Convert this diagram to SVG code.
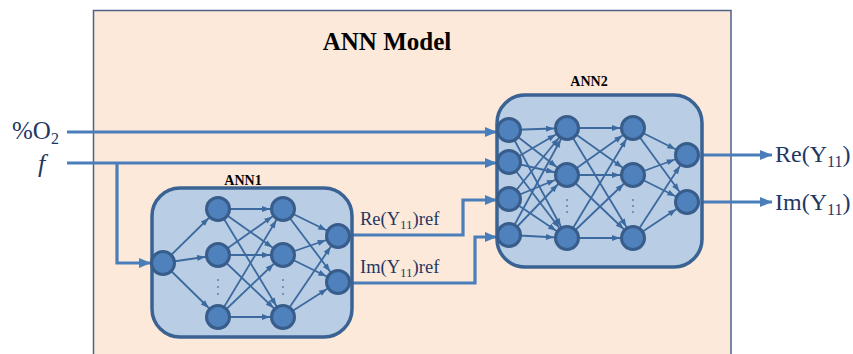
<svg xmlns="http://www.w3.org/2000/svg" width="853" height="354" viewBox="0 0 853 354">
  <style>
    .frame { fill: #fde9d9; stroke: #4d6189; stroke-width: 1.5; }
    .net { fill: #b9cde5; stroke: #3a6394; stroke-width: 3.5; }
    .neuron { fill: #4f81bd; stroke: #385d8a; stroke-width: 3; }
    .syn { stroke: #3c6a9e; stroke-width: 1.8; fill: none; marker-end: url(#tip); }
    .wire { stroke: #4a7ebb; stroke-width: 3.2; fill: none; }
    .dot { fill: #5b7fae; }
    .title { font-family: "Liberation Serif", "Times New Roman", serif; font-weight: bold; fill: #000; }
    .lbl { font-family: "Liberation Serif", "Times New Roman", serif; fill: #1f3864; }
  </style>
  <defs>
    <!-- small head that stops at the rim of the target neuron (r = 13) -->
    <marker id="tip" markerUnits="userSpaceOnUse" markerWidth="8" markerHeight="6" refX="21" refY="3" orient="auto" overflow="visible">
      <path d="M0,0 L8,3 L0,6 z" fill="#3c6a9e"/>
    </marker>
    <marker id="head" markerUnits="userSpaceOnUse" markerWidth="12" markerHeight="10" refX="12" refY="5" orient="auto">
      <path d="M0,0 L12,5 L0,10 z" fill="#4a7ebb"/>
    </marker>
  </defs>

  <!-- outer container -->
  <g id="ann-model">
    <rect class="frame" x="93.5" y="10.5" width="637.5" height="360"/>
    <text class="title" x="387" y="50" font-size="25" text-anchor="middle">ANN Model</text>
  </g>

  <!-- external and inter-network connectors -->
  <g id="connectors">
    <path class="wire" d="M67,132 H497" marker-end="url(#head)"/>
    <path class="wire" d="M67,163 H497" marker-end="url(#head)"/>
    <path class="wire" d="M117,163 V263 H151" marker-end="url(#head)"/>
    <path class="wire" d="M350,235 H463 V200 H497" marker-end="url(#head)"/>
    <path class="wire" d="M350,283 H475 V237 H497" marker-end="url(#head)"/>
    <path class="wire" d="M699,155 H772" marker-end="url(#head)"/>
    <path class="wire" d="M699,202 H772" marker-end="url(#head)"/>
  </g>

  <!-- first network -->
  <g id="ann1">
    <text class="title" x="243" y="185" font-size="14" text-anchor="middle">ANN1</text>
    <rect class="net" x="152" y="188" width="200" height="149" rx="28" ry="28"/>
    <g>
      <line class="syn" x1="163" y1="263" x2="218" y2="209"/>
      <line class="syn" x1="163" y1="263" x2="218" y2="255"/>
      <line class="syn" x1="163" y1="263" x2="218" y2="317"/>
      <line class="syn" x1="218" y1="209" x2="283" y2="209"/>
      <line class="syn" x1="218" y1="209" x2="283" y2="255"/>
      <line class="syn" x1="218" y1="209" x2="283" y2="317"/>
      <line class="syn" x1="218" y1="255" x2="283" y2="209"/>
      <line class="syn" x1="218" y1="255" x2="283" y2="255"/>
      <line class="syn" x1="218" y1="255" x2="283" y2="317"/>
      <line class="syn" x1="218" y1="317" x2="283" y2="209"/>
      <line class="syn" x1="218" y1="317" x2="283" y2="255"/>
      <line class="syn" x1="218" y1="317" x2="283" y2="317"/>
      <line class="syn" x1="283" y1="209" x2="338" y2="236"/>
      <line class="syn" x1="283" y1="209" x2="338" y2="282"/>
      <line class="syn" x1="283" y1="255" x2="338" y2="236"/>
      <line class="syn" x1="283" y1="255" x2="338" y2="282"/>
      <line class="syn" x1="283" y1="317" x2="338" y2="236"/>
      <line class="syn" x1="283" y1="317" x2="338" y2="282"/>
    </g>
    <circle class="neuron" cx="163" cy="263" r="11.5"/>
    <circle class="neuron" cx="218" cy="209" r="11.5"/>
    <circle class="neuron" cx="218" cy="255" r="11.5"/>
    <circle class="neuron" cx="218" cy="317" r="11.5"/>
    <circle class="neuron" cx="283" cy="209" r="11.5"/>
    <circle class="neuron" cx="283" cy="255" r="11.5"/>
    <circle class="neuron" cx="283" cy="317" r="11.5"/>
    <circle class="neuron" cx="338" cy="236" r="11.5"/>
    <circle class="neuron" cx="338" cy="282" r="11.5"/>
    <circle class="dot" cx="218" cy="280" r="1"/>
    <circle class="dot" cx="218" cy="287" r="1"/>
    <circle class="dot" cx="218" cy="294" r="1"/>
    <circle class="dot" cx="283" cy="280" r="1"/>
    <circle class="dot" cx="283" cy="287" r="1"/>
    <circle class="dot" cx="283" cy="294" r="1"/>
  </g>

  <!-- second network -->
  <g id="ann2">
    <text class="title" x="589" y="86" font-size="14" text-anchor="middle">ANN2</text>
    <rect class="net" x="497" y="95" width="205" height="172" rx="28" ry="28"/>
    <g>
      <line class="syn" x1="509" y1="130" x2="567" y2="128"/>
      <line class="syn" x1="509" y1="130" x2="567" y2="175"/>
      <line class="syn" x1="509" y1="130" x2="567" y2="238"/>
      <line class="syn" x1="509" y1="162" x2="567" y2="128"/>
      <line class="syn" x1="509" y1="162" x2="567" y2="175"/>
      <line class="syn" x1="509" y1="162" x2="567" y2="238"/>
      <line class="syn" x1="509" y1="199" x2="567" y2="128"/>
      <line class="syn" x1="509" y1="199" x2="567" y2="175"/>
      <line class="syn" x1="509" y1="199" x2="567" y2="238"/>
      <line class="syn" x1="509" y1="235" x2="567" y2="128"/>
      <line class="syn" x1="509" y1="235" x2="567" y2="175"/>
      <line class="syn" x1="509" y1="235" x2="567" y2="238"/>
      <line class="syn" x1="567" y1="128" x2="633" y2="128"/>
      <line class="syn" x1="567" y1="128" x2="633" y2="175"/>
      <line class="syn" x1="567" y1="128" x2="633" y2="238"/>
      <line class="syn" x1="567" y1="175" x2="633" y2="128"/>
      <line class="syn" x1="567" y1="175" x2="633" y2="175"/>
      <line class="syn" x1="567" y1="175" x2="633" y2="238"/>
      <line class="syn" x1="567" y1="238" x2="633" y2="128"/>
      <line class="syn" x1="567" y1="238" x2="633" y2="175"/>
      <line class="syn" x1="567" y1="238" x2="633" y2="238"/>
      <line class="syn" x1="633" y1="128" x2="687" y2="155"/>
      <line class="syn" x1="633" y1="128" x2="687" y2="202"/>
      <line class="syn" x1="633" y1="175" x2="687" y2="155"/>
      <line class="syn" x1="633" y1="175" x2="687" y2="202"/>
      <line class="syn" x1="633" y1="238" x2="687" y2="155"/>
      <line class="syn" x1="633" y1="238" x2="687" y2="202"/>
    </g>
    <circle class="neuron" cx="509" cy="130" r="11.5"/>
    <circle class="neuron" cx="509" cy="162" r="11.5"/>
    <circle class="neuron" cx="509" cy="199" r="11.5"/>
    <circle class="neuron" cx="509" cy="235" r="11.5"/>
    <circle class="neuron" cx="567" cy="128" r="11.5"/>
    <circle class="neuron" cx="567" cy="175" r="11.5"/>
    <circle class="neuron" cx="567" cy="238" r="11.5"/>
    <circle class="neuron" cx="633" cy="128" r="11.5"/>
    <circle class="neuron" cx="633" cy="175" r="11.5"/>
    <circle class="neuron" cx="633" cy="238" r="11.5"/>
    <circle class="neuron" cx="687" cy="155" r="11.5"/>
    <circle class="neuron" cx="687" cy="202" r="11.5"/>
    <circle class="dot" cx="567" cy="200" r="1"/>
    <circle class="dot" cx="567" cy="206" r="1"/>
    <circle class="dot" cx="567" cy="212" r="1"/>
    <circle class="dot" cx="633" cy="200" r="1"/>
    <circle class="dot" cx="633" cy="206" r="1"/>
    <circle class="dot" cx="633" cy="212" r="1"/>
  </g>

  <!-- signal labels -->
  <g id="labels">
    <text class="lbl" x="12" y="139" font-size="25">%O<tspan font-size="16" dy="5">2</tspan></text>
    <text class="lbl" x="38" y="172" font-size="26" font-style="italic">f</text>
    <text class="lbl" x="360" y="225" font-size="18.5">Re(Y<tspan font-size="13" dy="4">11</tspan><tspan dy="-4">)ref</tspan></text>
    <text class="lbl" x="360" y="273" font-size="18.5">Im(Y<tspan font-size="13" dy="4">11</tspan><tspan dy="-4">)ref</tspan></text>
    <text class="lbl" x="775" y="162" font-size="24">Re(Y<tspan font-size="16" dy="5">11</tspan><tspan dy="-5">)</tspan></text>
    <text class="lbl" x="775" y="210" font-size="24">Im(Y<tspan font-size="16" dy="5">11</tspan><tspan dy="-5">)</tspan></text>
  </g>
</svg>
